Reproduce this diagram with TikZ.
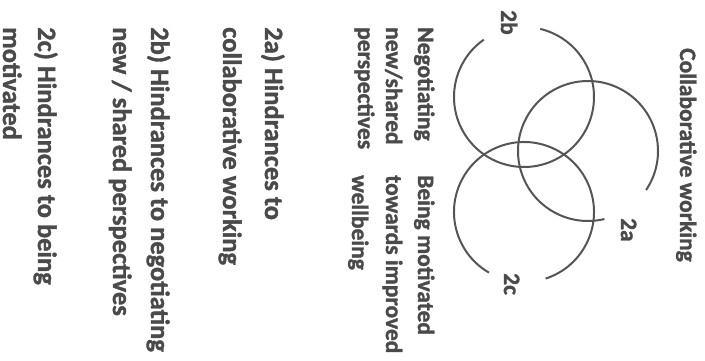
\documentclass[tikz,border=0pt]{standalone}
\usepackage{fontspec}
\setmainfont{Carlito}[BoldFont={Carlito Bold},BoldFeatures={FakeBold=1.3}]
\definecolor{inkgray}{HTML}{4A4A4A}
\definecolor{ringgray}{HTML}{555555}
\begin{document}
\begin{tikzpicture}[x=1pt,y=1pt,
  lab/.style={rotate=-90,anchor=base west,inner sep=0pt,text=inkgray,
    font=\fontsize{23.5}{28}\selectfont\bfseries},
  leg/.style={rotate=-90,anchor=base west,inner sep=0pt,text=inkgray,
    font=\fontsize{26.5}{32}\selectfont\bfseries},
  ring/.style={draw=ringgray,line width=2pt}]
\clip (0,0) rectangle (705,360);
\fill[white] (0,0) rectangle (705,360);
% rings
\draw[ring] (524,263) ++(125:70pt) arc[start angle=125,end angle=436.6,radius=70pt];
\draw[ring] (588,209) ++(-33.9:70pt) arc[start angle=-33.9,end angle=283.6,radius=70pt];
\draw[ring] (524,148) ++(-72:70pt) arc[start angle=-72,end angle=240,radius=70pt];
% ring labels
\node[lab] (t2b) at (501,350) {2b};
\node[lab] (t2a) at (621,142) {2a};
\node[lab] (t2c) at (504,87) {2c};
\node[lab] (collab) at (680,312) {Collaborative working};
\node[lab] (neg1) at (418,333) {Negotiating};
\node[lab] (neg2) at (386,333) {new/shared};
\node[lab] (neg3) at (358,333) {perspectives};
\node[lab] (mot1) at (418,185) {Being motivated};
\node[lab] (mot2) at (386,185) {towards improved};
\node[lab] (mot3) at (352,185) {wellbeing};
% legend
\node[leg] (l2a1) at (265,333) {2a) Hindrances to};
\node[leg] (l2a2) at (223,333) {collaborative working};
\node[leg] (l2b1) at (151,333) {2b) Hindrances to negotiating};
\node[leg] (l2b2) at (113,333) {new / shared perspectives};
\node[leg] (l2c1) at (38,333) {2c) Hindrances to being};
\node[leg] (l2c2) at (3,333) {motivated};
\end{tikzpicture}
\end{document}
